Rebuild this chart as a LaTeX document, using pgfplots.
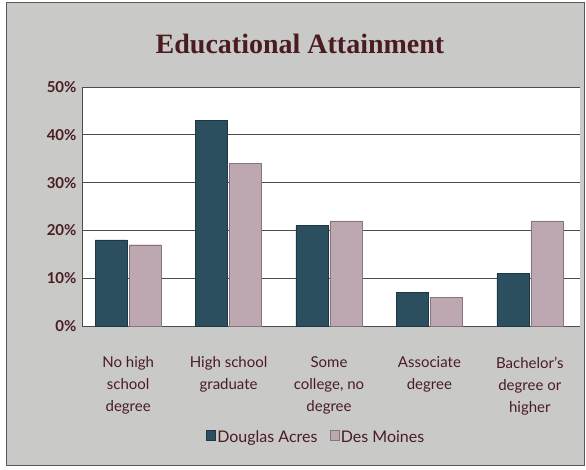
\documentclass[border=0pt]{standalone}
\usepackage{pgfplots}
\pgfplotsset{compat=1.18}
\usepackage{fontspec}
\setmainfont{Lato}
\newfontfamily\titlefont{Liberation Serif}
\definecolor{txt}{HTML}{4A1C22}
\definecolor{bg}{HTML}{C9C9C7}
\definecolor{da}{HTML}{2C4F60}
\definecolor{dm}{HTML}{BDA8B1}
\begin{document}
\begin{tikzpicture}[x=1pt,y=1pt]
\fill[white] (0,0) rectangle (586,469);
\fill[bg] (6,4) rectangle (584,466);
\draw[gray!70!black,line width=1pt] (6,4) rectangle (584,466);
\node[text=txt,font=\titlefont\bfseries\fontsize{28}{32}\selectfont] at (300,425) {Educational Attainment};
\begin{axis}[
  at={(82pt,143pt)}, anchor=south west,
  scale only axis, width=498pt, height=239pt,
  ybar=2pt, bar width=32pt,
  xmin=-0.46, xmax=4.5, ymin=0, ymax=50,
  ytick={0,10,20,30,40,50},
  yticklabel={\pgfmathprintnumber{\tick}\%},
  /pgf/number format/assume math mode=true,
  xtick={0,1,2,3,4},
  xticklabels={{No high\\school\\degree}, {High school\\graduate}, {Some\\college, no\\degree}, {Associate\\degree}, {Bachelor's\\degree or\\higher}},
  xticklabel style={align=center, text=txt, font=\fontsize{15}{22}\selectfont, yshift=-27pt},
  yticklabel style={text=txt, font=\bfseries\fontsize{15}{17}\selectfont, xshift=-2pt},
  major tick length=0pt,
  ymajorgrids, grid style={gray!60!black, line width=0.8pt},
  axis background/.style={fill=white},
  axis line style={draw=gray!60!black, line width=0.8pt},
  axis x line*=bottom, axis y line*=left,
  legend style={at={(0.47,-0.42)}, anchor=north, legend columns=2, draw=none, fill=none,
    font=\fontsize{16}{18}\selectfont, text=txt, /tikz/every even column/.append style={column sep=10pt}},
  legend image code/.code={\fill[#1] (0pt,-3pt) rectangle (9pt,7pt);},
]
\addplot[draw=da!70!black, fill=da] coordinates {(0,18) (1,43) (2,21) (3,7) (4,11)};
\addplot[draw=dm!70!black, fill=dm] coordinates {(0,17) (1,34) (2,22) (3,6) (4,22)};
\legend{Douglas Acres, Des Moines}
\end{axis}
\end{tikzpicture}
\end{document}
